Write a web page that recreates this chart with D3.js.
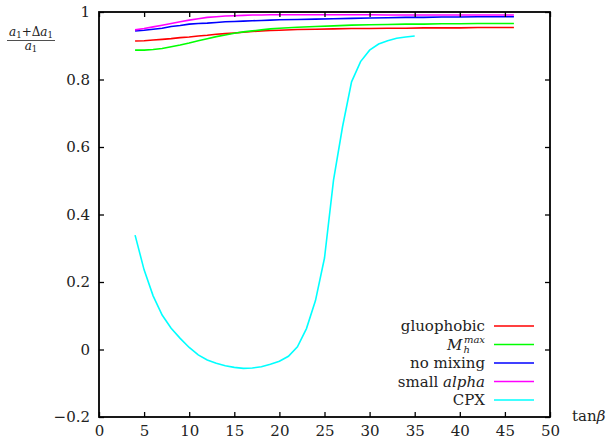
<!DOCTYPE html>
<html><head><meta charset="utf-8">
<script src="https://cdn.jsdelivr.net/npm/d3@7"></script>
<style>body{margin:0;background:#fff}</style>
</head><body><svg id="c" width="609" height="442"></svg>
<script>
const xTop = [4,5,6,7,8,9,10,11,12,13,14,15,16,17,18,19,20,22,24,26,28,30,32,34,36,38,40,42,44,46];
const gluophobic = [0.914,0.915,0.917,0.919,0.921,0.924,0.926,0.929,0.931,0.934,0.936,0.938,0.940,0.942,0.944,0.945,0.946,0.948,0.949,0.950,0.951,0.951,0.952,0.952,0.953,0.953,0.953,0.954,0.954,0.954];
const mhmax = [0.887,0.887,0.889,0.892,0.897,0.902,0.908,0.915,0.921,0.927,0.932,0.937,0.941,0.944,0.947,0.950,0.952,0.955,0.957,0.959,0.961,0.962,0.963,0.964,0.964,0.965,0.965,0.966,0.966,0.966];
const noMixing = [0.944,0.946,0.949,0.952,0.957,0.960,0.964,0.966,0.967,0.969,0.971,0.972,0.973,0.974,0.975,0.976,0.977,0.978,0.979,0.980,0.981,0.982,0.983,0.984,0.984,0.985,0.985,0.986,0.986,0.986];
const smallAlpha = [0.947,0.951,0.956,0.961,0.966,0.971,0.976,0.980,0.984,0.986,0.988,0.989,0.990,0.991,0.991,0.992,0.992,0.992,0.992,0.992,0.992,0.992,0.991,0.991,0.991,0.991,0.991,0.991,0.991,0.991];
const xCpx = [4,5,6,7,8,9,10,11,12,13,14,15,16,17,18,19,20,21,22,23,24,25,26,27,28,29,30,31,32,33,34,35];
const cpx = [0.339,0.236,0.159,0.102,0.063,0.033,0.006,-0.016,-0.031,-0.041,-0.048,-0.053,-0.056,-0.055,-0.051,-0.044,-0.035,-0.020,0.008,0.062,0.145,0.271,0.502,0.66,0.793,0.853,0.887,0.905,0.915,0.922,0.926,0.929];
const xTicks = [0,5,10,15,20,25,30,35,40,45,50];
const yTicks = [-0.2,0,0.2,0.4,0.6,0.8,1];
const seriesNames = ["gluophobic","Mhmax","no mixing","small alpha","CPX"];
const colors = ["#ff0000","#00ff00","#0000ff","#ff00ff","#00ffff"];

const FF = '"DejaVu Serif","Liberation Serif",serif';
const svg = d3.select("#c");
const L=99,R=550,T=12,B=417;
const x = d3.scaleLinear().domain([0,50]).range([L,R]);
const y = d3.scaleLinear().domain([-0.2,1]).range([B,T]);
const line = d3.line().x(d=>x(d[0])).y(d=>y(d[1]));

const series = [
  {x:xTop,y:gluophobic},{x:xTop,y:mhmax},{x:xTop,y:noMixing},{x:xTop,y:smallAlpha},{x:xCpx,y:cpx}
];
series.forEach((s,i)=>{
  svg.append("path").attr("d",line(s.x.map((v,j)=>[v,s.y[j]])))
    .attr("fill","none").attr("stroke",colors[i]).attr("stroke-width",1.6);
});

const tl=5;
const fs=15;
const axB = svg.append("g").attr("transform",`translate(0,${B})`).call(d3.axisBottom(x).tickValues(xTicks).tickSize(-tl).tickPadding(8).tickFormat(d3.format("d")));
const axT = svg.append("g").attr("transform",`translate(0,${T})`).call(d3.axisTop(x).tickValues(xTicks).tickSize(-tl).tickFormat(""));
const axL = svg.append("g").attr("transform",`translate(${L},0)`).call(d3.axisLeft(y).tickValues(yTicks).tickSize(-tl).tickPadding(9).tickFormat(d=>d===0?"0":d===1?"1":d3.format(".1f")(d).replace("-","\u2212")));
const axR = svg.append("g").attr("transform",`translate(${R},0)`).call(d3.axisRight(y).tickValues(yTicks).tickSize(-tl).tickFormat(""));
[axB,axT,axL,axR].forEach(a=>{
  a.attr("font-family",FF).attr("font-size",fs);
  a.select(".domain").remove();
  a.selectAll("line").attr("stroke","#000").attr("stroke-width",1.3);
  a.selectAll("text").attr("fill","#222");
});
axB.selectAll("text").attr("dy","0.75em");
svg.append("rect").attr("x",L).attr("y",T).attr("width",R-L).attr("height",B-T)
  .attr("fill","none").attr("stroke","#000").attr("stroke-width",1.8);

// x label
const xl = svg.append("text").attr("x",572).attr("y",421).attr("font-size",fs).attr("font-family",FF).attr("fill","#222");
xl.append("tspan").text("tan");
xl.append("tspan").attr("font-style","italic").text("\u03b2");

// y label fraction
const yf = 12;
const num = svg.append("text").attr("x",31).attr("y",36).attr("text-anchor","middle").attr("font-size",yf).attr("font-family",FF).attr("fill","#222");
num.append("tspan").attr("font-style","italic").text("a");
num.append("tspan").attr("dy",2).attr("font-size",8.5).text("1");
num.append("tspan").attr("dy",-2).text("+\u0394");
num.append("tspan").attr("font-style","italic").text("a");
num.append("tspan").attr("dy",2).attr("font-size",8.5).text("1");
svg.append("line").attr("x1",7).attr("x2",55).attr("y1",40.5).attr("y2",40.5).attr("stroke","#222").attr("stroke-width",0.8);
const den = svg.append("text").attr("x",31).attr("y",50).attr("text-anchor","middle").attr("font-size",yf).attr("font-family",FF).attr("fill","#222");
den.append("tspan").attr("font-style","italic").text("a");
den.append("tspan").attr("dy",2).attr("font-size",8.5).text("1");

// legend
const ly0=326, ldy=18.5, tx=485, lx1=494, lx2=534;
seriesNames.forEach((n,i)=>{
  const yy = ly0+i*ldy;
  svg.append("line").attr("x1",lx1).attr("x2",lx2).attr("y1",yy).attr("y2",yy).attr("stroke",colors[i]).attr("stroke-width",1.6);
  const t = svg.append("text").attr("x",tx).attr("y",yy+5).attr("text-anchor","end").attr("font-size",fs).attr("font-family",FF).attr("fill","#222");
  if(n==="Mhmax"){
    t.append("tspan").attr("font-style","italic").text("M");
    t.append("tspan").attr("font-style","italic").attr("font-size",10).attr("dy",3).attr("dx",1).text("h");
    t.append("tspan").attr("font-style","italic").attr("font-size",10).attr("dy",-10).attr("dx",-6).text("max");
  } else if(n==="small alpha"){
    t.append("tspan").text("small ");
    t.append("tspan").attr("font-style","italic").text("alpha");
  } else t.text(n);
});
</script></body></html>
